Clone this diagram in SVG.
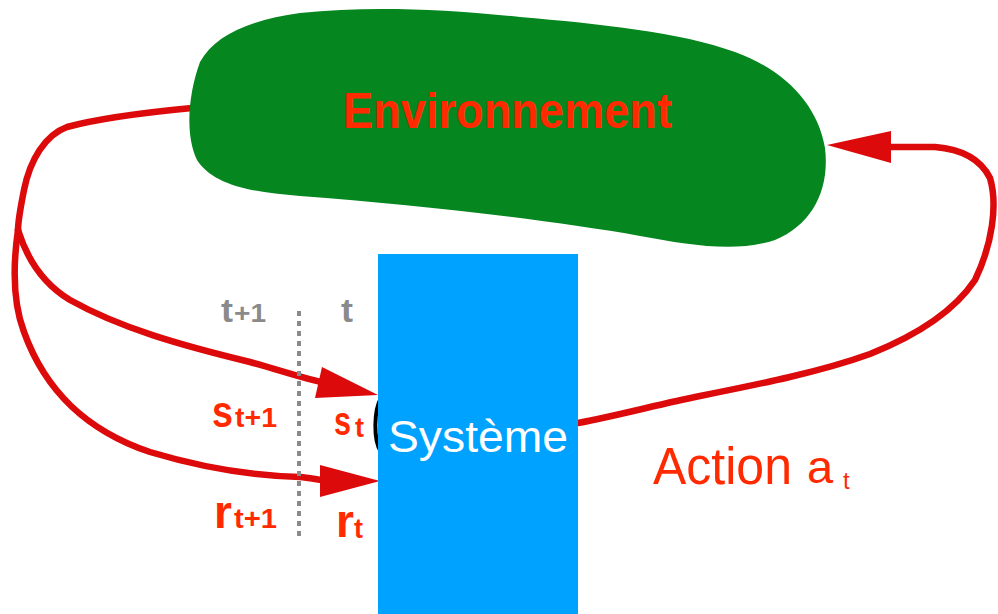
<svg xmlns="http://www.w3.org/2000/svg" width="998" height="614" viewBox="0 0 998 614">
  <defs>
    <style>
      .wire { fill: none; stroke: #dc0a0a; stroke-width: 6.5; stroke-linecap: round; stroke-linejoin: round; }
      .head { fill: #dc0a0a; }
      .lbl { font-family: "Liberation Sans", Arial, sans-serif; fill: #ff2a00; font-weight: bold; }
      .tick { font-family: "Liberation Sans", Arial, sans-serif; fill: #8a8a8a; font-weight: bold; }
      .act { font-family: "Liberation Sans", Arial, sans-serif; fill: #ff2a00; }
    </style>
  </defs>
  <rect width="998" height="614" fill="#ffffff"/>

  <!-- connectors -->
  <g id="connectors">
    <!-- feedback from environment splitting into state and reward -->
    <path class="wire" d="M 192,108 C 150,112 100,118 67,127 C 45,135 30,160 24,190 C 20,210 18,222 18,230"/>
    <path class="wire" d="M 18,230 C 28,262 45,285 70,300 C 120,328 180,345 250,362 C 280,370 300,378 330,384"/>
    <path class="wire" d="M 18,230 C 13,265 12,300 24,332 C 45,390 85,430 150,452 C 210,470 260,476 300,477 C 310,478 320,480 330,481"/>
    <polygon class="head" points="322,367 378,395 315,398"/>
    <polygon class="head" points="320,465 380,481 320,497"/>
    <!-- action back to the environment -->
    <path class="wire" d="M 578,423 C 620,415 660,404 700,396 C 760,384 820,372 870,354 C 920,334 955,310 975,280 C 992,245 998,205 990,178 C 980,158 960,149 935,147 L 888,147"/>
    <polygon class="head" points="891,131 827,145 891,163"/>
    <!-- time separator -->
    <line x1="299" y1="311" x2="299" y2="538" stroke="#8a8a8a" stroke-width="4" stroke-dasharray="5,5"/>
  </g>

  <!-- environment -->
  <g id="environnement">
    <path fill="#05861f" d="M 200,62 C 215,35 250,20 300,13 C 370,6 440,9 520,17 C 600,24 680,32 735,52 C 785,70 818,105 825,148 C 830,190 812,225 775,240 C 735,253 690,245 640,236 C 550,220 420,205 300,196 C 245,192 212,183 197,160 C 185,135 188,95 200,62 Z"/>
    <text class="lbl" x="343" y="128" font-size="50" textLength="329" lengthAdjust="spacingAndGlyphs" fill="#f22a00">Environnement</text>
  </g>

  <!-- time labels -->
  <g id="temps">
    <text class="tick" x="221" y="322" font-size="34" textLength="12" lengthAdjust="spacingAndGlyphs">t</text>
    <text class="tick" x="234" y="322" font-size="25" textLength="32" lengthAdjust="spacingAndGlyphs">+1</text>
    <text class="tick" x="341" y="322" font-size="34" textLength="12" lengthAdjust="spacingAndGlyphs">t</text>
  </g>

  <!-- state and reward labels -->
  <g id="etats">
    <text class="lbl" x="212" y="427" font-size="44" textLength="21" lengthAdjust="spacingAndGlyphs">s</text>
    <text class="lbl" x="235" y="427" font-size="27" textLength="42" lengthAdjust="spacingAndGlyphs">t+1</text>
    <text class="lbl" x="334" y="435" font-size="40" textLength="17" lengthAdjust="spacingAndGlyphs">s</text>
    <text class="lbl" x="355" y="437" font-size="28" textLength="9" lengthAdjust="spacingAndGlyphs">t</text>
    <text class="lbl" x="214" y="528" font-size="46">r</text>
    <text class="lbl" x="234" y="528" font-size="28" textLength="43" lengthAdjust="spacingAndGlyphs">t+1</text>
    <text class="lbl" x="336" y="537" font-size="46">r</text>
    <text class="lbl" x="354" y="538" font-size="28" textLength="9" lengthAdjust="spacingAndGlyphs">t</text>
  </g>

  <!-- agent -->
  <g id="systeme">
    <path d="M 381,398 C 374,410 373,440 381,452" fill="none" stroke="#000000" stroke-width="4"/>
    <rect x="378" y="254" width="200" height="360" fill="#00a2ff"/>
    <text x="478" y="452" font-family="Liberation Sans, Arial, sans-serif" font-size="44" fill="#ffffff" text-anchor="middle" textLength="180" lengthAdjust="spacingAndGlyphs">Système</text>
  </g>

  <!-- action label -->
  <g id="action">
    <text class="act" x="653" y="484" font-size="51" textLength="139" lengthAdjust="spacingAndGlyphs">Action</text>
    <text class="act" x="807" y="483" font-size="47">a</text>
    <text class="act" x="843" y="489" font-size="24">t</text>
  </g>
</svg>
